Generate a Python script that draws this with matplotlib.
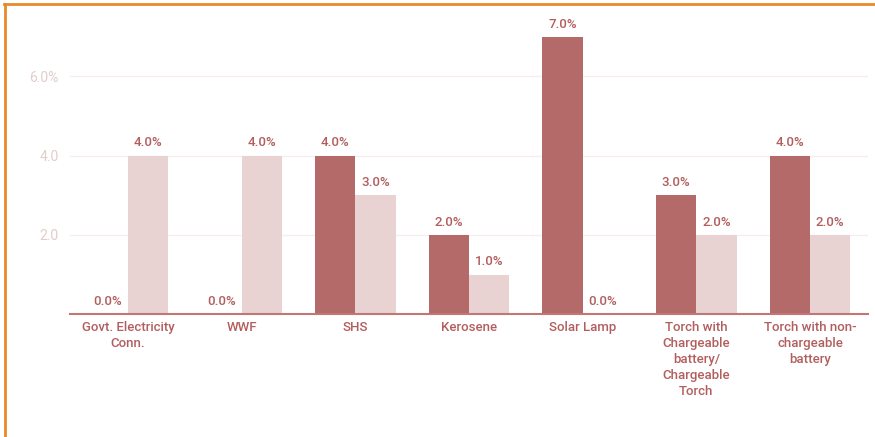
import matplotlib.pyplot as plt
from matplotlib.lines import Line2D
import numpy as np

plt.rcParams["font.family"] = ["Roboto", "DejaVu Sans"]

categories = [
    "Govt. Electricity\nConn.",
    "WWF",
    "SHS",
    "Kerosene",
    "Solar Lamp",
    "Torch with\nChargeable\nbattery/\nChargeable\nTorch",
    "Torch with non-\nchargeable\nbattery",
]
series_dark = [0.0, 0.0, 4.0, 2.0, 7.0, 3.0, 4.0]
series_light = [4.0, 4.0, 3.0, 1.0, 0.0, 2.0, 2.0]
ytick_values = [2.0, 4.0, 6.0]
ytick_labels = ["2.0", "4.0", "6.0%"]

dark = "#b46a69"
light = "#e9d2d2"
text_red = "#b35e5e"

fig = plt.figure(figsize=(8.75, 4.37), dpi=100)
ax = fig.add_axes([0.08, 0.281, 0.912, 0.68])

x = np.arange(len(categories))
width = 0.355
bars_dark = ax.bar(x - width / 2, series_dark, width, color=dark, zorder=3)
bars_light = ax.bar(x + width / 2, series_light, width, color=light, zorder=3)

for bars in (bars_dark, bars_light):
    for b in bars:
        ax.annotate(f"{b.get_height():.1f}%",
                    (b.get_x() + b.get_width() / 2, b.get_height()),
                    xytext=(0, 4.5), textcoords="offset points",
                    ha="center", va="bottom", fontsize=9.5, fontweight="medium",
                    color=text_red)

ax.set_xlim(-0.51, len(categories) - 0.49)
ax.set_ylim(0, 7.5)
ax.set_yticks(ytick_values)
ax.set_yticklabels(ytick_labels)
ax.set_xticks(x)
ax.set_xticklabels(categories, fontsize=9.5, fontweight="medium", color=text_red,
                   linespacing=1.3)
ax.tick_params(axis="x", length=0, pad=5)
ax.tick_params(axis="y", length=0, pad=8, labelsize=10, labelcolor="#e3cccc")
ax.grid(axis="y", color="#f6eded", linewidth=1, zorder=0)
for side in ("top", "right", "left"):
    ax.spines[side].set_visible(False)
ax.spines["bottom"].set_color("#c27676")
ax.spines["bottom"].set_linewidth(1.5)
ax.spines["bottom"].set_zorder(4)

# orange frame on top and left edges
fig.add_artist(Line2D([0.005, 1.0], [0.99, 0.99], color="#e88a2c", linewidth=2,
                      transform=fig.transFigure))
fig.add_artist(Line2D([0.006, 0.006], [0.0, 0.99], color="#e88a2c", linewidth=2,
                      transform=fig.transFigure))

fig.savefig("out.png", dpi=100)
